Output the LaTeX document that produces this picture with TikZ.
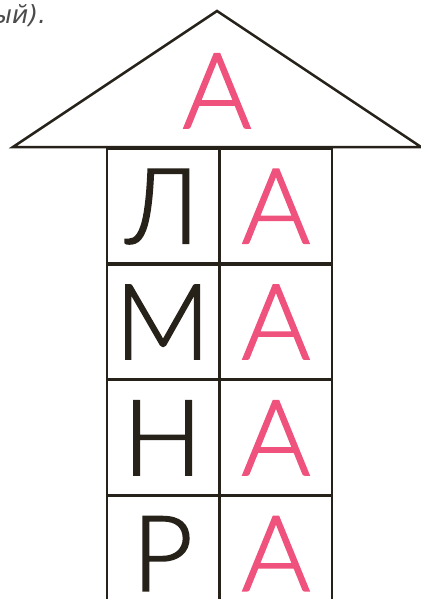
\documentclass[tikz,border=0pt]{standalone}
\usepackage{fontspec}
\usepackage{xcolor}
\usepackage{tikz}
\usetikzlibrary{matrix,positioning}
\newfontfamily\letterfont{Lato}[UprightFont=* Light, FakeBold=1.5]
\newfontfamily\notefont{DejaVu Sans}
\definecolor{pinkA}{RGB}{238,82,125}
\definecolor{ink}{RGB}{38,34,26}

\begin{document}
\begin{tikzpicture}[
  x=1pt, y=-1pt,
  every node/.style={inner sep=0pt, outer sep=0pt},
  big/.style={font=\letterfont\fontsize{105}{105}\selectfont},
  cell/.style={draw=ink, line width=1.8pt, big, text=ink,
    minimum width=111.5pt, minimum height=114pt, text height=75pt, text depth=0pt},
  pinkcell/.style={cell, text=pinkA}
]
\useasboundingbox (0,0) rectangle (420,599);
% roof
\coordinate (apex) at (217,11);
\coordinate (eaveL) at (13,147);
\coordinate (eaveR) at (421,147);
\draw[ink, line width=2.5pt] (eaveL) -- (apex) -- (eaveR) -- cycle;
\node[big, text=pinkA, anchor=base] (roofA) at (217,128) {А};
\node[font=\notefont\itshape\fontsize{25}{25}\selectfont, text=black!70, anchor=base east] (note) at (46,24) {ый).};
% floors
\matrix (grid) [matrix of nodes, nodes={cell}, row sep=0pt, column sep=0pt,
  anchor=north west] at (106,148) {
Л & |[pinkcell]| А \\
М & |[pinkcell]| А \\
Н & |[pinkcell]| А \\
Р & |[pinkcell]| А \\
};
\end{tikzpicture}
\end{document}
